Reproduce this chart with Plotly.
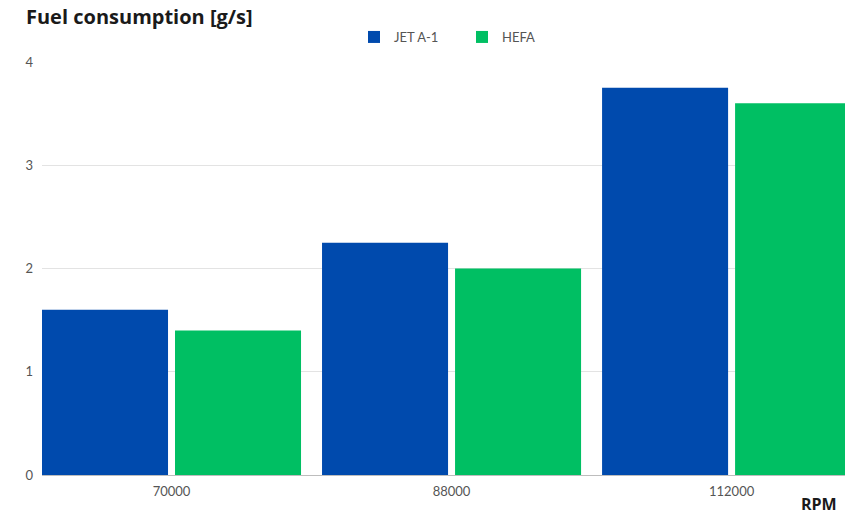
import plotly.graph_objects as go

categories = ["70000", "88000", "112000"]
jet_a1 = [1.6, 2.25, 3.75]
hefa = [1.4, 2.0, 3.6]
y_ticks = [0, 1, 2, 3, 4]

fig = go.Figure()
fig.add_trace(go.Bar(name="JET A-1", x=categories, y=jet_a1, marker_color="#004AAD",
                     marker_line_width=0))
fig.add_trace(go.Bar(name="HEFA", x=categories, y=hefa, marker_color="#00BF63",
                     marker_line_width=0))

fig.update_layout(
    width=845, height=516,
    margin=dict(l=42, r=0, t=62, b=41),
    paper_bgcolor="white", plot_bgcolor="white",
    barmode="group", bargap=0.05, bargroupgap=0.0526,
    font=dict(family="Lato", color="#555555", size=13),
    showlegend=True,
    legend=dict(orientation="h", x=(462 - 42) / 803, xanchor="center", y=(475 - 37) / 413,
                yanchor="middle",
                font=dict(family="Lato", size=13, color="#555555"),
                itemwidth=30, traceorder="normal", entrywidth=63),
    xaxis=dict(type="category", range=[-0.4625, 2.405], showgrid=False,
               showline=True, linecolor="#bdbdbd", linewidth=1,
               tickfont=dict(family="Lato", size=13, color="#555555"),
               ticks="", ticklabelstandoff=4),
    yaxis=dict(range=[0, 4], tickvals=y_ticks, showgrid=True, gridcolor="#e3e3e3",
               gridwidth=1, zeroline=False, showline=False,
               tickfont=dict(family="Lato", size=13, color="#555555"),
               ticklabelstandoff=8),
    annotations=[
        dict(text="<b>Fuel consumption [g/s]</b>", xref="paper", yref="paper",
             x=(24 - 42) / 803, xanchor="left", y=1.0 + (62 - 17) / 413, yanchor="middle",
             showarrow=False, font=dict(family="Open Sans", size=20, color="#1a1a1a")),
        dict(text="<b>RPM</b>", xref="paper", yref="paper",
             x=0.993, xanchor="right", y=-(504 - 475) / 413, yanchor="middle",
             showarrow=False, font=dict(family="Open Sans", size=16, color="#1a1a1a")),
    ],
)

fig.write_html("out.html")
